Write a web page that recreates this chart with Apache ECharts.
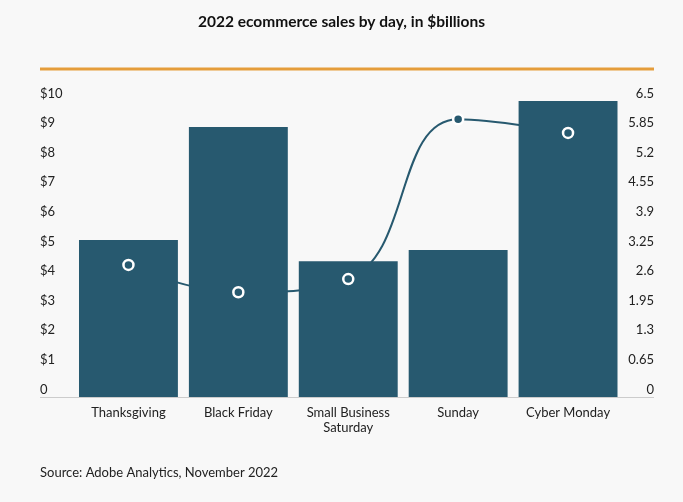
<!DOCTYPE html>
<html>
<head>
<meta charset="utf-8">
<script src="https://cdn.jsdelivr.net/npm/echarts@6/dist/echarts.min.js"></script>
<style>
  html, body { margin: 0; padding: 0; background: #f8f8f8; }
  #chart { width: 683px; height: 502px; }
</style>
</head>
<body>
<div id="chart"></div>
<script>
// data
var days = ['Thanksgiving', 'Black Friday', 'Small Business\nSaturday', 'Sunday', 'Cyber Monday']
var sales = [5.3, 9.12, 4.59, 4.97, 10]
var lineVals = [2.9, 2.3, 2.59, 6.1, 5.8]
var leftTicks = ['0', '$1', '$2', '$3', '$4', '$5', '$6', '$7', '$8', '$9', '$10']
var rightTicks = ['0', '0.65', '1.3', '1.95', '2.6', '3.25', '3.9', '4.55', '5.2', '5.85', '6.5']

var dark = '#27596f'
var font = 'Lato, "Open Sans", sans-serif'

var chart = echarts.init(document.getElementById('chart'))

chart.setOption({
  backgroundColor: '#f8f8f8',
  animation: false,
  title: {
    text: '2022 ecommerce sales by day, in $billions',
    left: 'center',
    top: 9,
    textStyle: { fontFamily: font, fontSize: 15.5, fontWeight: 'bold', color: '#111' }
  },
  grid: { left: 73.5, right: 60, top: 101, bottom: 105 },
  xAxis: {
    type: 'category',
    data: days,
    axisLine: { show: false },
    axisTick: { show: false },
    axisLabel: { color: '#222', fontFamily: font, fontSize: 13, margin: 8, lineHeight: 15 }
  },
  yAxis: [
    {
      type: 'value', min: 0, max: 10, interval: 1,
      splitLine: { show: false },
      axisLabel: {
        align: 'left', margin: 33.5, verticalAlign: 'bottom', padding: [0, 0, 1, 0],
        color: '#222', fontFamily: font, fontSize: 13,
        formatter: function (v) { return leftTicks[Math.round(v)] }
      }
    },
    {
      type: 'value', min: 0, max: 6.5, interval: 0.65,
      splitLine: { show: false },
      axisLabel: {
        align: 'right', margin: 31, verticalAlign: 'bottom', padding: [0, 0, 1, 0],
        color: '#222', fontFamily: font, fontSize: 13,
        formatter: function (v) { return rightTicks[Math.round(v / 0.65)] }
      }
    }
  ],
  graphic: [
    { type: 'rect', shape: { x: 40, y: 67.5, width: 614, height: 3 }, style: { fill: '#e59d3b' } },
    { type: 'line', shape: { x1: 40, y1: 397.5, x2: 654, y2: 397.5 }, style: { stroke: '#cccccc', lineWidth: 1 } },
    {
      type: 'text', left: 40, top: 466,
      style: { text: 'Source: Adobe Analytics, November 2022', fill: '#222', font: '13px ' + font }
    }
  ],
  series: [
    {
      type: 'line',
      yAxisIndex: 1,
      data: lineVals,
      smooth: 0.45,
      z: 1,
      showSymbol: false,
      lineStyle: { color: dark, width: 2 }
    },
    {
      type: 'bar',
      data: sales,
      barCategoryGap: '10%',
      z: 2,
      itemStyle: { color: dark }
    },
    {
      type: 'scatter',
      yAxisIndex: 1,
      data: lineVals,
      z: 3,
      symbolSize: 10,
      itemStyle: { color: dark, borderColor: '#ffffff', borderWidth: 2.5, opacity: 1 }
    }
  ]
})
</script>
</body>
</html>
